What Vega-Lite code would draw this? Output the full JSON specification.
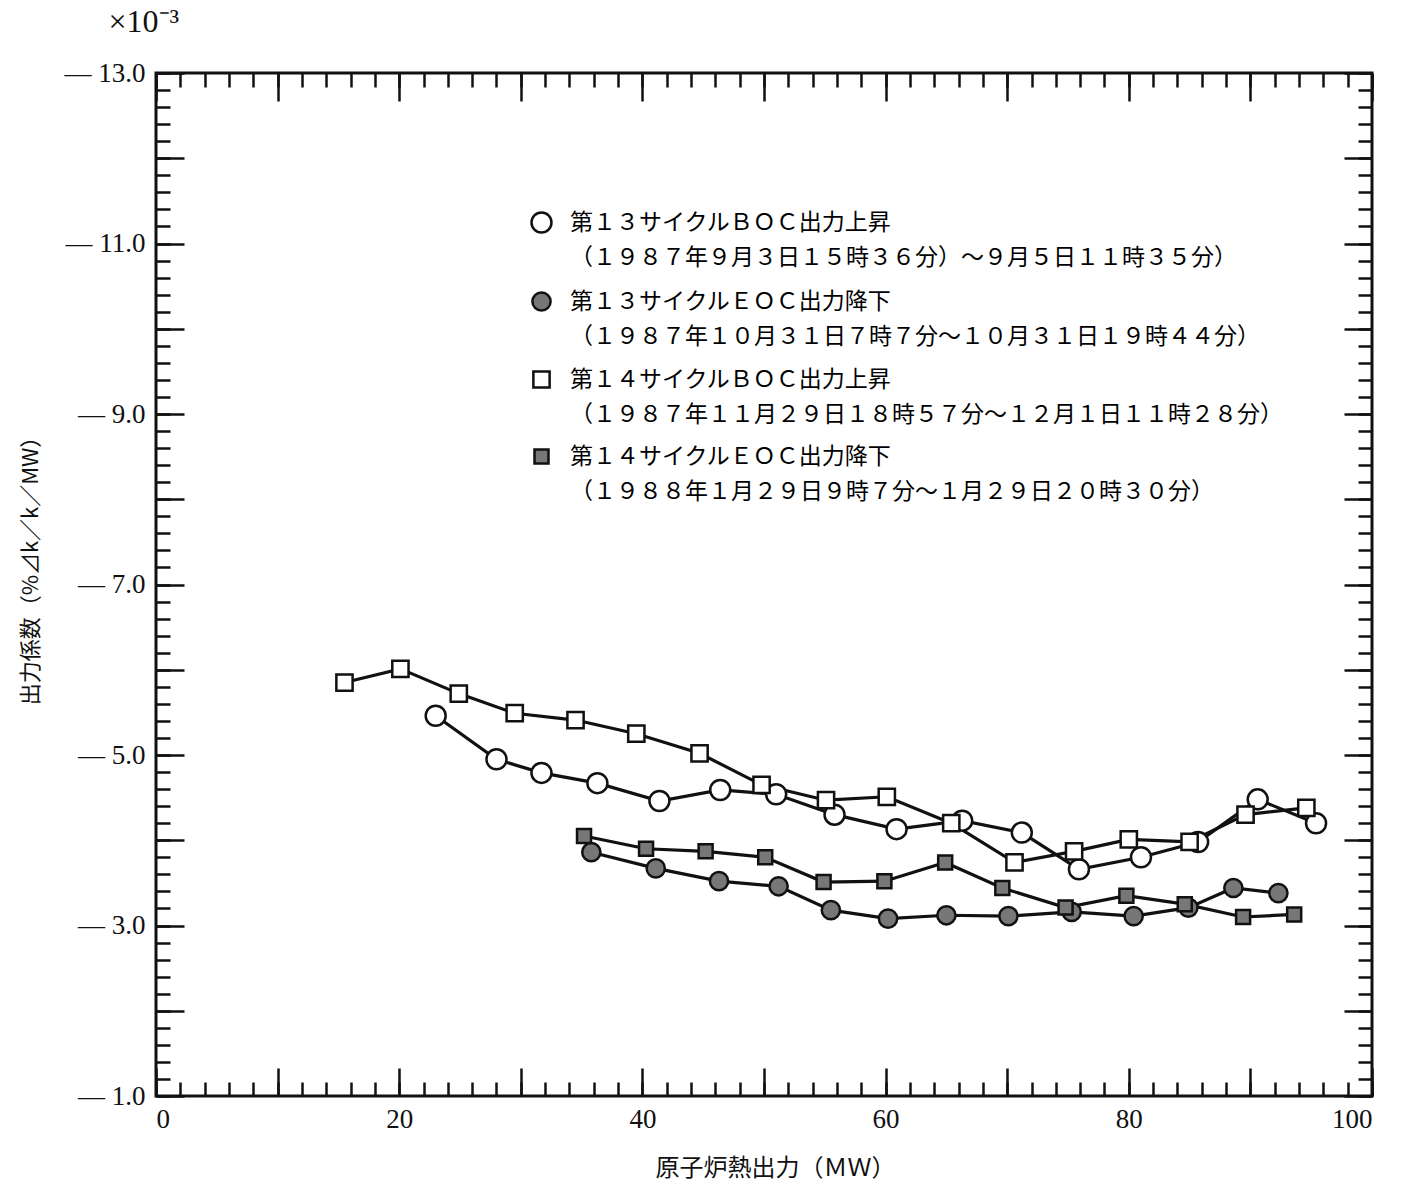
{
  "$schema": "https://vega.github.io/schema/vega-lite/v6.json",
  "width": 1216,
  "height": 1023,
  "autosize": {"type": "none"},
  "padding": {"left": 156, "top": 73, "right": 29, "bottom": 92},
  "background": "white",
  "config": {
    "view": {"stroke": "#111", "strokeWidth": 3},
    "style": {"guide-label": {"lineHeight": 35}},
    "axis": {"grid": false, "domain": false, "tickColor": "#111", "tickWidth": 2.5, "labelColor": "#111", "titleColor": "#111"}
  },
  "data": {
    "values": [
      {"series": "第１３サイクルＢＯＣ出力上昇", "x": 23.0, "y": -5.46},
      {"series": "第１３サイクルＢＯＣ出力上昇", "x": 28.0, "y": -4.95},
      {"series": "第１３サイクルＢＯＣ出力上昇", "x": 31.7, "y": -4.79},
      {"series": "第１３サイクルＢＯＣ出力上昇", "x": 36.3, "y": -4.67},
      {"series": "第１３サイクルＢＯＣ出力上昇", "x": 41.4, "y": -4.46},
      {"series": "第１３サイクルＢＯＣ出力上昇", "x": 46.4, "y": -4.59},
      {"series": "第１３サイクルＢＯＣ出力上昇", "x": 51.0, "y": -4.54},
      {"series": "第１３サイクルＢＯＣ出力上昇", "x": 55.8, "y": -4.30},
      {"series": "第１３サイクルＢＯＣ出力上昇", "x": 60.9, "y": -4.13},
      {"series": "第１３サイクルＢＯＣ出力上昇", "x": 66.3, "y": -4.23},
      {"series": "第１３サイクルＢＯＣ出力上昇", "x": 71.2, "y": -4.09},
      {"series": "第１３サイクルＢＯＣ出力上昇", "x": 75.9, "y": -3.66},
      {"series": "第１３サイクルＢＯＣ出力上昇", "x": 81.0, "y": -3.80},
      {"series": "第１３サイクルＢＯＣ出力上昇", "x": 85.7, "y": -3.98},
      {"series": "第１３サイクルＢＯＣ出力上昇", "x": 90.6, "y": -4.48},
      {"series": "第１３サイクルＢＯＣ出力上昇", "x": 95.4, "y": -4.20},
      {"series": "第１３サイクルＥＯＣ出力降下", "x": 35.8, "y": -3.86},
      {"series": "第１３サイクルＥＯＣ出力降下", "x": 41.1, "y": -3.67},
      {"series": "第１３サイクルＥＯＣ出力降下", "x": 46.3, "y": -3.52},
      {"series": "第１３サイクルＥＯＣ出力降下", "x": 51.2, "y": -3.46},
      {"series": "第１３サイクルＥＯＣ出力降下", "x": 55.5, "y": -3.18},
      {"series": "第１３サイクルＥＯＣ出力降下", "x": 60.2, "y": -3.08},
      {"series": "第１３サイクルＥＯＣ出力降下", "x": 65.0, "y": -3.12},
      {"series": "第１３サイクルＥＯＣ出力降下", "x": 70.1, "y": -3.11},
      {"series": "第１３サイクルＥＯＣ出力降下", "x": 75.3, "y": -3.16},
      {"series": "第１３サイクルＥＯＣ出力降下", "x": 80.4, "y": -3.11},
      {"series": "第１３サイクルＥＯＣ出力降下", "x": 84.9, "y": -3.21},
      {"series": "第１３サイクルＥＯＣ出力降下", "x": 88.6, "y": -3.44},
      {"series": "第１３サイクルＥＯＣ出力降下", "x": 92.3, "y": -3.38},
      {"series": "第１４サイクルＢＯＣ出力上昇", "x": 15.5, "y": -5.85},
      {"series": "第１４サイクルＢＯＣ出力上昇", "x": 20.1, "y": -6.01},
      {"series": "第１４サイクルＢＯＣ出力上昇", "x": 24.9, "y": -5.72},
      {"series": "第１４サイクルＢＯＣ出力上昇", "x": 29.5, "y": -5.49},
      {"series": "第１４サイクルＢＯＣ出力上昇", "x": 34.5, "y": -5.41},
      {"series": "第１４サイクルＢＯＣ出力上昇", "x": 39.5, "y": -5.25},
      {"series": "第１４サイクルＢＯＣ出力上昇", "x": 44.7, "y": -5.02},
      {"series": "第１４サイクルＢＯＣ出力上昇", "x": 49.8, "y": -4.65},
      {"series": "第１４サイクルＢＯＣ出力上昇", "x": 55.1, "y": -4.47},
      {"series": "第１４サイクルＢＯＣ出力上昇", "x": 60.1, "y": -4.51},
      {"series": "第１４サイクルＢＯＣ出力上昇", "x": 65.4, "y": -4.20},
      {"series": "第１４サイクルＢＯＣ出力上昇", "x": 70.6, "y": -3.74},
      {"series": "第１４サイクルＢＯＣ出力上昇", "x": 75.5, "y": -3.87},
      {"series": "第１４サイクルＢＯＣ出力上昇", "x": 80.0, "y": -4.01},
      {"series": "第１４サイクルＢＯＣ出力上昇", "x": 85.0, "y": -3.98},
      {"series": "第１４サイクルＢＯＣ出力上昇", "x": 89.6, "y": -4.30},
      {"series": "第１４サイクルＢＯＣ出力上昇", "x": 94.6, "y": -4.38},
      {"series": "第１４サイクルＥＯＣ出力降下", "x": 35.2, "y": -4.05},
      {"series": "第１４サイクルＥＯＣ出力降下", "x": 40.3, "y": -3.90},
      {"series": "第１４サイクルＥＯＣ出力降下", "x": 45.2, "y": -3.87},
      {"series": "第１４サイクルＥＯＣ出力降下", "x": 50.1, "y": -3.80},
      {"series": "第１４サイクルＥＯＣ出力降下", "x": 54.9, "y": -3.51},
      {"series": "第１４サイクルＥＯＣ出力降下", "x": 59.9, "y": -3.52},
      {"series": "第１４サイクルＥＯＣ出力降下", "x": 64.9, "y": -3.74},
      {"series": "第１４サイクルＥＯＣ出力降下", "x": 69.6, "y": -3.44},
      {"series": "第１４サイクルＥＯＣ出力降下", "x": 74.8, "y": -3.21},
      {"series": "第１４サイクルＥＯＣ出力降下", "x": 79.8, "y": -3.35},
      {"series": "第１４サイクルＥＯＣ出力降下", "x": 84.6, "y": -3.25},
      {"series": "第１４サイクルＥＯＣ出力降下", "x": 89.4, "y": -3.10},
      {"series": "第１４サイクルＥＯＣ出力降下", "x": 93.6, "y": -3.13}
    ]
  },
  "resolve": {"axis": {"x": "independent", "y": "independent"}},
  "layer": [
    {
      "transform": [{"filter": "indexof(datum.series, '１３') >= 0"}],
      "mark": {"type": "line", "color": "#111", "strokeWidth": 3.2},
      "encoding": {
        "x": {
          "field": "x", "type": "quantitative",
          "scale": {"domain": [0, 100], "nice": false, "zero": false},
          "axis": {"orient": "bottom", "values": [0,2,4,6,8,10,12,14,16,18,20,22,24,26,28,30,32,34,36,38,40,42,44,46,48,50,52,54,56,58,60,62,64,66,68,70,72,74,76,78,80,82,84,86,88,90,92,94,96,98,100], "tickSize": -14, "labels": false, "title": null}
        },
        "y": {
          "field": "y", "type": "quantitative",
          "scale": {"domain": [-13, -1], "nice": false, "zero": false, "reverse": true},
          "axis": {"orient": "left", "values": [-13,-12.8,-12.6,-12.4,-12.2,-12,-11.8,-11.6,-11.4,-11.2,-11,-10.8,-10.6,-10.4,-10.2,-10,-9.8,-9.6,-9.4,-9.2,-9,-8.8,-8.6,-8.4,-8.2,-8,-7.8,-7.6,-7.4,-7.2,-7,-6.8,-6.6,-6.4,-6.2,-6,-5.8,-5.6,-5.4,-5.2,-5,-4.8,-4.6,-4.4,-4.2,-4,-3.8,-3.6,-3.4,-3.2,-3,-2.8,-2.6,-2.4,-2.2,-2,-1.8,-1.6,-1.4,-1.2,-1], "tickSize": -14, "labels": false, "title": "×10⁻³", "titleFont": "Liberation Serif", "titleFontSize": 32, "titleFontWeight": "normal", "titleAngle": 0, "titleAlign": "left", "titleBaseline": "middle", "titleX": -48, "titleY": -52}
        },
        "detail": {"field": "series"}
      }
    },
    {
      "transform": [{"filter": "indexof(datum.series, '１４') >= 0"}],
      "mark": {"type": "line", "color": "#111", "strokeWidth": 3.2},
      "encoding": {
        "x": {
          "field": "x", "type": "quantitative",
          "scale": {"domain": [0, 100], "nice": false, "zero": false},
          "axis": {"orient": "top", "values": [0,2,4,6,8,10,12,14,16,18,20,22,24,26,28,30,32,34,36,38,40,42,44,46,48,50,52,54,56,58,60,62,64,66,68,70,72,74,76,78,80,82,84,86,88,90,92,94,96,98,100], "tickSize": -14, "labels": false, "title": null}
        },
        "y": {
          "field": "y", "type": "quantitative",
          "scale": {"domain": [-13, -1], "nice": false, "zero": false, "reverse": true},
          "axis": {"orient": "right", "values": [-13,-12.8,-12.6,-12.4,-12.2,-12,-11.8,-11.6,-11.4,-11.2,-11,-10.8,-10.6,-10.4,-10.2,-10,-9.8,-9.6,-9.4,-9.2,-9,-8.8,-8.6,-8.4,-8.2,-8,-7.8,-7.6,-7.4,-7.2,-7,-6.8,-6.6,-6.4,-6.2,-6,-5.8,-5.6,-5.4,-5.2,-5,-4.8,-4.6,-4.4,-4.2,-4,-3.8,-3.6,-3.4,-3.2,-3,-2.8,-2.6,-2.4,-2.2,-2,-1.8,-1.6,-1.4,-1.2,-1], "tickSize": -14, "labels": false, "title": null}
        },
        "detail": {"field": "series"}
      }
    },
    {
      "transform": [{"filter": "indexof(datum.series, '１３') >= 0"}],
      "mark": {"type": "point", "filled": true, "stroke": "#111", "strokeWidth": 2.5, "opacity": 1},
      "encoding": {
        "x": {
          "field": "x", "type": "quantitative",
          "scale": {"domain": [0, 100], "nice": false, "zero": false},
          "axis": {"orient": "bottom", "values": [0,10,20,30,40,50,60,70,80,90,100], "tickSize": -28, "labelPadding": 38, "labelExpr": "datum.value % 20 == 0 ? datum.label : ''", "labelFont": "Liberation Serif", "labelFontSize": 27, "title": "原子炉熱出力（ＭＷ）", "titleFont": "Noto Sans CJK JP", "titleFontSize": 24, "titleFontWeight": "normal", "titleX": 619, "titleY": 72, "titleBaseline": "middle"}
        },
        "y": {
          "field": "y", "type": "quantitative",
          "scale": {"domain": [-13, -1], "nice": false, "zero": false, "reverse": true},
          "axis": {"orient": "left", "values": [-13,-12,-11,-10,-9,-8,-7,-6,-5,-4,-3,-2,-1], "tickSize": -28, "labelPadding": 39, "labelExpr": "datum.value % 2 != 0 ? '— ' + format(-datum.value, '.1f') : ''", "labelFont": "Liberation Serif", "labelFontSize": 27, "title": "出力係数（%⊿k／k／MW）", "titleFont": "Noto Sans CJK JP", "titleFontSize": 22, "titleFontWeight": "normal", "titleX": -126, "titleY": 492, "titleBaseline": "middle"}
        },
        "shape": {"field": "series", "type": "nominal", "scale": {"domain": ["第１３サイクルＢＯＣ出力上昇", "第１３サイクルＥＯＣ出力降下", "第１４サイクルＢＯＣ出力上昇", "第１４サイクルＥＯＣ出力降下"], "range": ["circle", "circle", "square", "square"]}, "legend": {"orient": "none", "legendX": 374, "legendY": 138, "title": null, "labelFont": "Noto Sans CJK JP", "labelFontSize": 23, "labelLimit": 1000, "labelOffset": 17, "rowPadding": 17, "symbolStrokeColor": "#111", "symbolStrokeWidth": 2.5, "labelExpr": "[datum.label, datum.label == '第１３サイクルＢＯＣ出力上昇' ? '（１９８７年９月３日１５時３６分）～９月５日１１時３５分）' : datum.label == '第１３サイクルＥＯＣ出力降下' ? '（１９８７年１０月３１日７時７分～１０月３１日１９時４４分）' : datum.label == '第１４サイクルＢＯＣ出力上昇' ? '（１９８７年１１月２９日１８時５７分～１２月１日１１時２８分）' : '（１９８８年１月２９日９時７分～１月２９日２０時３０分）']", "encode": {"labels": {"update": {"baseline": {"value": "top"}, "dy": {"value": -13}, "lineHeight": {"value": 35}}}}}},
        "fill": {"field": "series", "type": "nominal", "scale": {"domain": ["第１３サイクルＢＯＣ出力上昇", "第１３サイクルＥＯＣ出力降下", "第１４サイクルＢＯＣ出力上昇", "第１４サイクルＥＯＣ出力降下"], "range": ["white", "#777777", "white", "#777777"]}, "legend": {"orient": "none", "legendX": 374, "legendY": 138, "title": null}},
        "size": {"field": "series", "type": "nominal", "scale": {"domain": ["第１３サイクルＢＯＣ出力上昇", "第１３サイクルＥＯＣ出力降下", "第１４サイクルＢＯＣ出力上昇", "第１４サイクルＥＯＣ出力降下"], "range": [400, 196, 324, 169]}, "legend": {"orient": "none", "legendX": 374, "legendY": 138, "title": null}}
      }
    },
    {
      "transform": [{"filter": "indexof(datum.series, '１４') >= 0"}],
      "mark": {"type": "point", "filled": true, "stroke": "#111", "strokeWidth": 2.5, "opacity": 1},
      "encoding": {
        "x": {
          "field": "x", "type": "quantitative",
          "scale": {"domain": [0, 100], "nice": false, "zero": false},
          "axis": {"orient": "top", "values": [0,10,20,30,40,50,60,70,80,90,100], "tickSize": -28, "labels": false, "title": null}
        },
        "y": {
          "field": "y", "type": "quantitative",
          "scale": {"domain": [-13, -1], "nice": false, "zero": false, "reverse": true},
          "axis": {"orient": "right", "values": [-13,-12,-11,-10,-9,-8,-7,-6,-5,-4,-3,-2,-1], "tickSize": -28, "labels": false, "title": null}
        },
        "shape": {"field": "series", "type": "nominal", "scale": {"domain": ["第１３サイクルＢＯＣ出力上昇", "第１３サイクルＥＯＣ出力降下", "第１４サイクルＢＯＣ出力上昇", "第１４サイクルＥＯＣ出力降下"], "range": ["circle", "circle", "square", "square"]}},
        "fill": {"field": "series", "type": "nominal", "scale": {"domain": ["第１３サイクルＢＯＣ出力上昇", "第１３サイクルＥＯＣ出力降下", "第１４サイクルＢＯＣ出力上昇", "第１４サイクルＥＯＣ出力降下"], "range": ["white", "#777777", "white", "#777777"]}},
        "size": {"field": "series", "type": "nominal", "scale": {"domain": ["第１３サイクルＢＯＣ出力上昇", "第１３サイクルＥＯＣ出力降下", "第１４サイクルＢＯＣ出力上昇", "第１４サイクルＥＯＣ出力降下"], "range": [400, 196, 324, 169]}}
      }
    }
  ]
}
